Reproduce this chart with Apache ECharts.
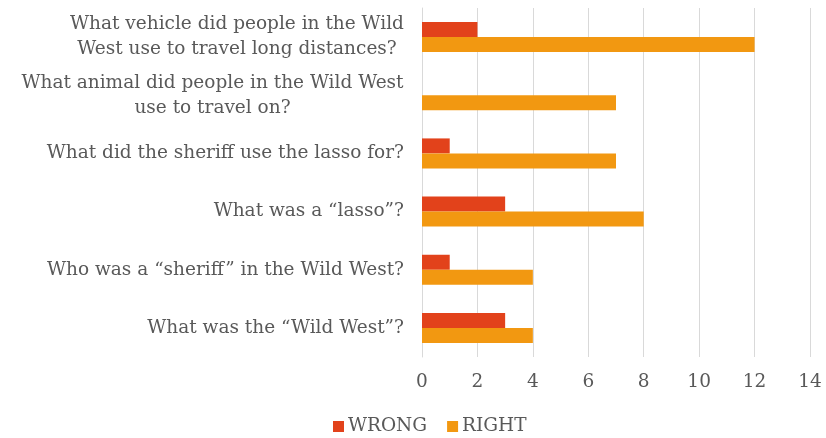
<!DOCTYPE html>
<html><head><meta charset="utf-8">
<script src="https://cdn.jsdelivr.net/npm/echarts@6/dist/echarts.min.js"></script>
<style>html,body{margin:0;padding:0;background:#fff}#c{width:826px;height:438px}</style>
</head><body><div id="c"></div>
<script>
const categories = [
  'What was the \u201cWild West\u201d?',
  'Who was a \u201csheriff\u201d in the Wild West?',
  'What was a \u201classo\u201d?',
  'What did the sheriff use the lasso for?',
  'What animal did people in the Wild West\nuse to travel on?',
  'What vehicle did people in the Wild\nWest use to travel long distances?'
];
const wrongValues = [3, 1, 3, 1, 0, 2];
const rightValues = [4, 4, 8, 7, 7, 12];
const seriesNames = ['WRONG', 'RIGHT'];
const xTicks = [0, 2, 4, 6, 8, 10, 12, 14];

const FONT = '"DejaVu Serif", serif';
const FS = 18.5;
const ctx = document.createElement('canvas').getContext('2d');
ctx.font = FS + 'px ' + FONT;
const rich = {};
const labelMap = {};
categories.forEach((c, i) => {
  const lines = c.split('\n');
  if (lines.length > 1) {
    const w = Math.ceil(Math.max(...lines.map(l => ctx.measureText(l).width)));
    const key = 'm' + i;
    rich[key] = { width: w, align: 'center', fontSize: FS, fontFamily: FONT, color: '#595959', lineHeight: 25 };
    labelMap[c] = lines.map(l => '{' + key + '|' + l + '}').join('\n');
  } else {
    labelMap[c] = c;
  }
});

const chart = echarts.init(document.getElementById('c'));
chart.setOption({
  animation: false,
  grid: { left: 422, right: 16, top: 8, height: 349 },
  legend: {
    top: 412, left: 328, itemWidth: 11, itemHeight: 11, itemGap: 20,
    icon: 'rect',
    textStyle: { fontFamily: FONT, fontSize: FS, color: '#595959', padding: [0, 0, 0, -1] },
    data: seriesNames
  },
  xAxis: {
    type: 'value', min: xTicks[0], max: xTicks[xTicks.length - 1], interval: 2,
    axisLine: { show: false }, axisTick: { show: false },
    splitLine: { lineStyle: { color: '#d9d9d9', width: 1 } },
    axisLabel: { fontFamily: FONT, fontSize: FS, color: '#595959', margin: 16 }
  },
  yAxis: {
    type: 'category', data: categories,
    axisLine: { show: true, lineStyle: { color: '#d9d9d9' } },
    axisTick: { show: false },
    axisLabel: {
      fontFamily: FONT, fontSize: FS, color: '#595959', margin: 18, lineHeight: 25,
      formatter: v => labelMap[v], rich: rich
    }
  },
  series: [
    { name: seriesNames[0], type: 'bar', data: wrongValues, barWidth: 15, barGap: '0%',
      itemStyle: { color: '#E2421B' } },
    { name: seriesNames[1], type: 'bar', data: rightValues, barWidth: 15, barGap: '0%',
      itemStyle: { color: '#F29811' } }
  ]
});
</script></body></html>
